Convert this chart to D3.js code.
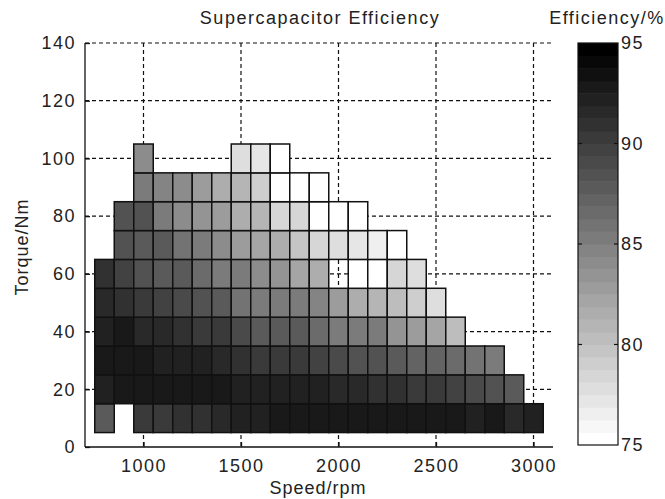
<!DOCTYPE html>
<html>
<head>
<meta charset="utf-8">
<script src="https://cdn.jsdelivr.net/npm/d3@7"></script>
<style>
body { margin: 0; background: #fff; }
svg { display: block; }
text { font-family: "Liberation Sans", Arial, sans-serif; fill: #222; }
</style>
</head>
<body>
<script>
// speed columns (rpm) and torque rows (Nm), cell centres
var speed = [800, 900, 1000, 1100, 1200, 1300, 1400, 1500, 1600, 1700, 1800, 1900,
             2000, 2100, 2200, 2300, 2400, 2500, 2600, 2700, 2800, 2900, 3000];
var torque = [10, 20, 30, 40, 50, 60, 70, 80, 90, 100];

// efficiency (%) per torque row; null = no cell
var e10 = [88.1, null, 90.6, 90.6, 90.9, 91.2, 91.5, 92.0, 92.3, 92.5, 92.5, 92.5,
           92.5, 92.6, 92.6, 92.6, 92.5, 92.5, 93.0, 92.3, 93.0, 91.7, 91.9];
var e20 = [92.3, 93.0, 92.8, 93.0, 93.0, 93.1, 92.8, 92.3, 92.3, 92.2, 92.0, 91.9,
           91.5, 91.4, 91.2, 90.9, 90.3, 90.3, 89.7, 89.0, 88.7, 87.8, null];
var e30 = [92.8, 92.6, 92.6, 92.3, 92.2, 91.9, 91.5, 90.9, 90.3, 90.1, 90.0, 89.4,
           89.0, 88.7, 88.4, 87.8, 87.2, 87.2, 86.4, 85.7, 85.6, null, null];
var e40 = [92.3, 92.6, 91.5, 91.5, 91.2, 90.6, 90.0, 89.0, 87.8, 87.6, 87.8, 86.5,
           85.6, 85.3, 85.1, 83.4, 83.1, 82.1, 80.3, null, null, null, null];
var e50 = [91.5, 91.2, 90.6, 89.7, 89.0, 88.4, 87.8, 86.2, 85.0, 85.0, 85.6, 84.5,
           82.5, 81.8, 81.2, 80.3, 79.0, 78.1, null, null, null, null, null];
var e60 = [91.2, 89.8, 88.6, 87.9, 87.5, 86.5, 85.6, 85.0, 84.2, 83.5, 82.1, 81.5,
           null, 74.8, 74.9, 78.2, 77.7, null, null, null, null, null, null];
var e70 = [null, 88.6, 88.1, 87.9, 85.7, 85.1, 84.2, 82.9, 82.1, 81.8, 79.5, 78.7,
           77.7, 77.0, 76.8, 75.0, null, null, null, null, null, null, null];
var e80 = [null, 88.7, 88.4, 85.6, 84.2, 83.7, 82.5, 81.7, 80.7, 78.5, 78.7, 75.0,
           74.8, 74.9, null, null, null, null, null, null, null, null, null];
var e90 = [null, null, 85.4, 84.5, 84.0, 82.6, 81.8, 80.9, 79.0, 75.0, 74.9, 74.8,
           null, null, null, null, null, null, null, null, null, null, null];
var e100 = [null, null, 84.2, null, null, null, null, 78.1, 77.1, 75.0, null, null,
            null, null, null, null, null, null, null, null, null, null, null];
var effRows = [e10, e20, e30, e40, e50, e60, e70, e80, e90, e100];

var xTicks = [1000, 1500, 2000, 2500, 3000];
var yTicks = [0, 20, 40, 60, 80, 100, 120, 140];
var cbTicks = [75, 80, 85, 90, 95];

var W = 665, H = 499;
var svg = d3.select("body").append("svg").attr("width", W).attr("height", H);

var x = d3.scaleLinear().domain([700, 3100]).range([85, 553]);
var y = d3.scaleLinear().domain([0, 140]).range([447, 43]);

// flipped gray colormap, 32 steps
var nLev = 32;
var levels = d3.range(nLev).map(function(i){ return d3.interpolateRgb("#ffffff", "#000000")(i/(nLev-1)); });
var color = d3.scaleQuantize().domain([75, 95]).range(levels);

// grid (behind cells)
var grid = svg.append("g").attr("stroke", "#111").attr("stroke-width", 1.2).attr("stroke-dasharray", "4,3");
grid.selectAll("line.gx").data(xTicks).enter().append("line")
  .attr("x1", function(d){ return x(d); }).attr("x2", function(d){ return x(d); })
  .attr("y1", y(140)).attr("y2", y(0));
grid.selectAll("line.gy").data(yTicks.slice(1)).enter().append("line")
  .attr("x1", x(700)).attr("x2", x(3100))
  .attr("y1", function(d){ return y(d); }).attr("y2", function(d){ return y(d); });

// cells
var cells = [];
effRows.forEach(function(row, r){
  row.forEach(function(v, c){
    if (v !== null) cells.push({s: speed[c], t: torque[r], v: v});
  });
});
svg.append("g").selectAll("rect").data(cells).enter().append("rect")
  .attr("x", function(d){ return x(d.s - 50); })
  .attr("width", function(d){ return x(d.s + 50) - x(d.s - 50); })
  .attr("y", function(d){ return y(d.t + 5); })
  .attr("height", function(d){ return y(d.t - 5) - y(d.t + 5); })
  .attr("fill", function(d){ return color(Math.max(75, Math.min(94.99, d.v))); })
  .attr("stroke", "#111").attr("stroke-width", 1.5);

// axes
var xAxis = d3.axisBottom(x).tickValues(xTicks).tickSize(-5).tickPadding(9).tickFormat(d3.format("d"));
var yAxis = d3.axisLeft(y).tickValues(yTicks).tickSize(-5).tickPadding(9);
var gx = svg.append("g").attr("transform", "translate(0," + y(0) + ")").call(xAxis);
var gy = svg.append("g").attr("transform", "translate(" + x(700) + ",0)").call(yAxis);
[gx, gy].forEach(function(g){
  g.select(".domain").attr("stroke", "#111").attr("stroke-width", 1.3);
  g.selectAll(".tick line").attr("stroke", "#111").attr("stroke-width", 1.3);
  g.selectAll(".tick text").attr("fill", "#222").style("font-size", "18px")
    .style("letter-spacing", "1.5px").style("font-family", "'Liberation Sans', Arial, sans-serif");
});
gx.select(".domain").attr("d", "M" + x(700) + ",0H" + x(3100));
gy.select(".domain").attr("d", "M0," + y(140) + "V" + y(0));
gx.selectAll(".tick text").attr("dy", "0.9em");

// titles
svg.append("text").attr("x", 320).attr("y", 24).attr("text-anchor", "middle")
  .style("font-size", "18px").style("letter-spacing", "1.5px").text("Supercapacitor Efficiency");
svg.append("text").attr("x", 318).attr("y", 494).attr("text-anchor", "middle")
  .style("font-size", "18px").style("letter-spacing", "1px").text("Speed/rpm");
svg.append("text").attr("transform", "translate(28,247) rotate(-90)").attr("text-anchor", "middle")
  .style("font-size", "18px").style("letter-spacing", "1px").text("Torque/Nm");

// colorbar
var cb = svg.append("g");
var cy = d3.scaleLinear().domain([75, 95]).range([445, 43]);
var step = 20 / nLev;
cb.selectAll("rect").data(levels).enter().append("rect")
  .attr("x", 578).attr("width", 40)
  .attr("y", function(d, i){ return cy(75 + (i + 1) * step); })
  .attr("height", function(d, i){ return cy(75 + i * step) - cy(75 + (i + 1) * step) + 0.5; })
  .attr("fill", function(d){ return d; });
cb.append("rect").attr("x", 578).attr("y", cy(95)).attr("width", 40).attr("height", cy(75) - cy(95))
  .attr("fill", "none").attr("stroke", "#111").attr("stroke-width", 1.2);
cb.selectAll("line.tl").data(cbTicks.slice(1, -1)).enter().append("line")
  .attr("x1", 578).attr("x2", 582).attr("y1", function(d){ return cy(d); }).attr("y2", function(d){ return cy(d); })
  .attr("stroke", "#111").attr("stroke-width", 1.2);
cb.selectAll("line.tr").data(cbTicks.slice(1, -1)).enter().append("line")
  .attr("x1", 614).attr("x2", 618).attr("y1", function(d){ return cy(d); }).attr("y2", function(d){ return cy(d); })
  .attr("stroke", "#111").attr("stroke-width", 1.2);
cb.selectAll("text").data(cbTicks).enter().append("text")
  .attr("x", 621).attr("y", function(d){ return cy(d); }).attr("dy", "0.35em")
  .style("font-size", "18px").style("letter-spacing", "1.5px").text(function(d){ return d; });
svg.append("text").attr("x", 607).attr("y", 24).attr("text-anchor", "middle")
  .style("font-size", "18px").style("letter-spacing", "1.5px").text("Efficiency/%");
</script>
</body>
</html>
